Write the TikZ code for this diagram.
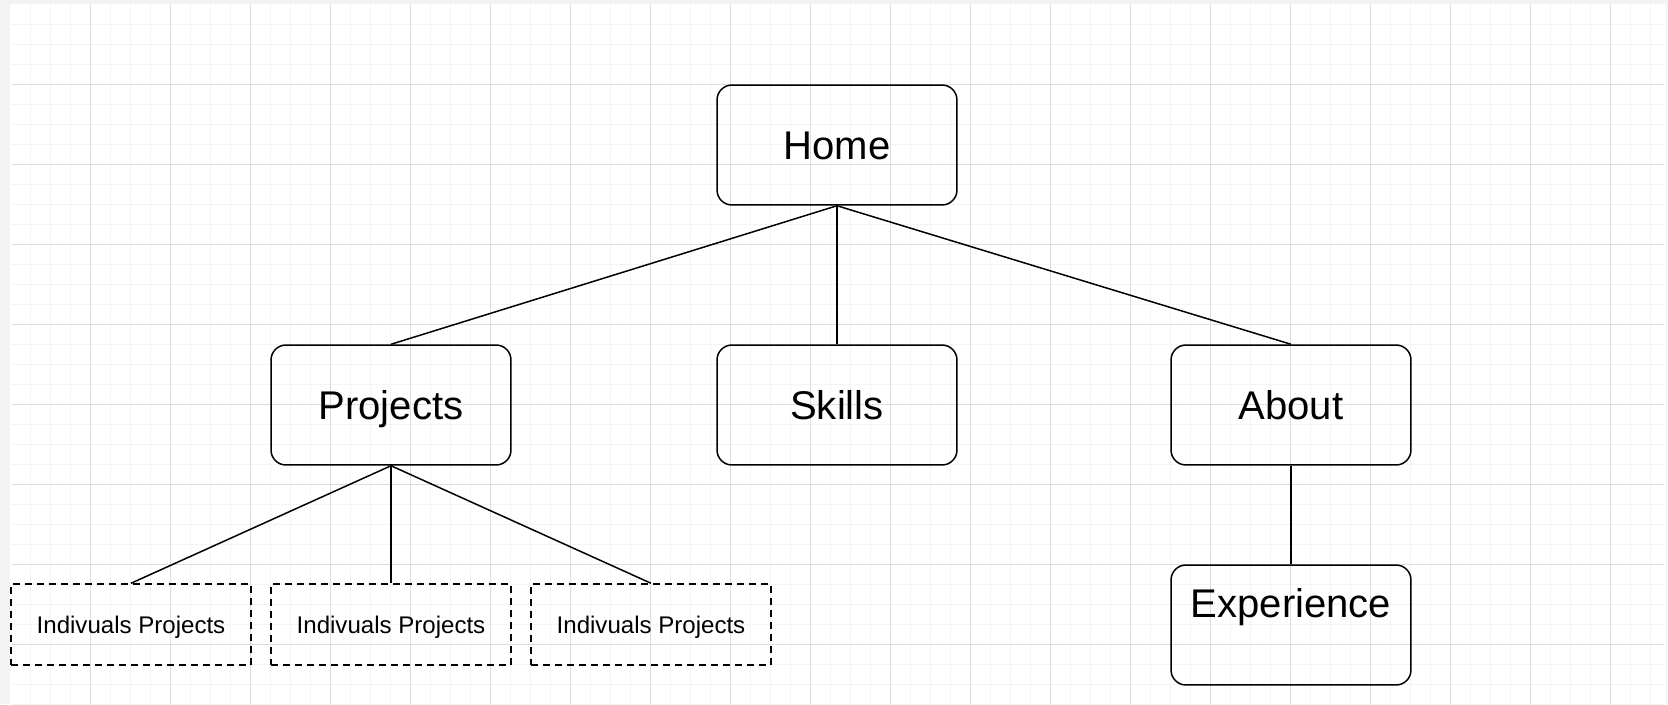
\documentclass[tikz,border=0pt]{standalone}
\usepackage{fontspec}
\setmainfont{Liberation Sans}
\usepackage{tikz}
\usetikzlibrary{positioning}

\definecolor{pagegray}{HTML}{F3F3F3}
\definecolor{gridminor}{HTML}{F4F4F4}
\definecolor{gridmajor}{HTML}{DDDDDD}

\begin{document}
\begin{tikzpicture}[x=0.02cm, y=-0.02cm,
        pagebox/.style={draw, line width=0.03cm, rounded corners=0.3cm,
            minimum width=4.8cm, minimum height=2.4cm, inner sep=0pt,
            font=\fontsize{22.8}{27}\selectfont,
            text height=0.576cm, text depth=0pt},
        subbox/.style={draw, line width=0.03cm, dash pattern=on 0.14cm off 0.1cm,
            minimum width=4.8cm, minimum height=1.62cm, inner sep=0pt,
            font=\fontsize{13.7}{16}\selectfont,
            text height=0.346cm, text depth=0pt},
        link/.style={line width=0.03cm}]

        %% ── Fond et grille ────────────────────────────────────────────────
        \useasboundingbox (0,0) rectangle (1668,704);
        \fill[pagegray] (0,0) rectangle (1668,704);
        \fill[white] (10,4) rectangle (1666,704);
        \foreach \gx in {30,50,...,1650}
            \draw[gridminor, line width=0.02cm] (\gx,4) -- (\gx,704);
        \foreach \gy in {24,44,...,704}
            \draw[gridminor, line width=0.02cm] (12,\gy) -- (1664,\gy);
        \foreach \gx in {90,170,...,1650}
            \draw[gridmajor, line width=0.02cm] (\gx,4) -- (\gx,704);
        \foreach \gy in {84,164,...,704}
            \draw[gridmajor, line width=0.02cm] (12,\gy) -- (1664,\gy);

        %% ── Pages ─────────────────────────────────────────────────────────
        \node[pagebox] (home)     at (837,145)  {Home};
        \node[pagebox] (projects) at (391,405)  {Projects};
        \node[pagebox] (skills)   at (837,405)  {Skills};
        \node[pagebox] (about)    at (1291,405) {About};
        \node[pagebox, text depth=0.88cm] (experience) at (1291,625)
            {Experience};

        %% ── Projets individuels ───────────────────────────────────────────
        \node[subbox] (proj1) at (131,624.5) {Indivuals Projects};
        \node[subbox] (proj2) at (391,624.5) {Indivuals Projects};
        \node[subbox] (proj3) at (651,624.5) {Indivuals Projects};

        %% ── Liens ─────────────────────────────────────────────────────────
        \draw[link] (home.south) -- (projects.north);
        \draw[link] (home.south) -- (skills.north);
        \draw[link] (home.south) -- (about.north);
        \draw[link] (projects.south) -- (proj1.north);
        \draw[link] (projects.south) -- (proj2.north);
        \draw[link] (projects.south) -- (proj3.north);
        \draw[link] (about.south) -- (experience.north);

    \end{tikzpicture}
\end{document}
